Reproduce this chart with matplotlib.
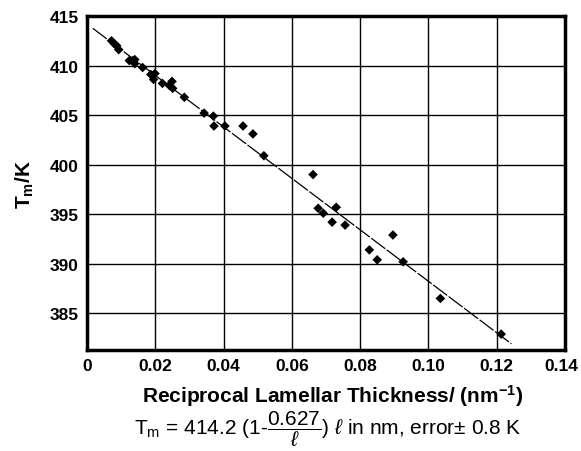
import numpy as np
import matplotlib
matplotlib.use("Agg")
import matplotlib.pyplot as plt
from matplotlib.transforms import ScaledTranslation

plt.rcParams["font.family"] = ["Liberation Sans", "DejaVu Sans"]
plt.rcParams["mathtext.fontset"] = "custom"
plt.rcParams["mathtext.rm"] = "Liberation Sans"
plt.rcParams["mathtext.it"] = "Liberation Sans:italic"
plt.rcParams["mathtext.bf"] = "Liberation Sans:bold"

# ---------------------------------------------------------------- data
recip_thick = [0.0072, 0.0080, 0.0087, 0.0093, 0.0124, 0.0134, 0.0140, 0.0140,
               0.0163, 0.0187, 0.0199, 0.0195, 0.0221, 0.0241, 0.0249, 0.0251,
               0.0285, 0.0343, 0.0370, 0.0372, 0.0404, 0.0457, 0.0486, 0.0518,
               0.0662, 0.0677, 0.0692, 0.0730, 0.0718, 0.0756, 0.0896, 0.0827,
               0.0850, 0.0926, 0.1035, 0.1213]
melt_temp = [412.5, 412.2, 412.0, 411.6, 410.5, 410.5, 410.6, 410.2,
             409.8, 409.1, 409.2, 408.6, 408.2, 408.0, 408.4, 407.7,
             406.8, 405.2, 404.9, 403.9, 403.9, 403.9, 403.1, 400.9,
             399.0, 395.6, 395.1, 395.7, 394.2, 393.9, 392.9, 391.4,
             390.4, 390.2, 386.5, 382.9]
fit_t0 = 414.2
fit_k = 0.627
fit_range = [0.0017, 0.1243]
xticks = [0, 0.02, 0.04, 0.06, 0.08, 0.10, 0.12, 0.14]
xtick_labels = ["0", "0.02", "0.04", "0.06", "0.08", "0.10", "0.12", "0.14"]
yticks = [385, 390, 395, 400, 405, 410, 415]

# ---------------------------------------------------------------- plot
fig = plt.figure(figsize=(5.81, 4.52), dpi=100)
ax = fig.add_axes([0.1497, 0.2235, 0.8228, 0.7389])

xf = np.linspace(fit_range[0], fit_range[1], 50)
ax.plot(xf, fit_t0 * (1 - fit_k * xf), color="black", lw=0.9,
        dashes=(14, 1.5), zorder=3)
ax.scatter(recip_thick, melt_temp, marker="D", s=24, color="black",
           edgecolors="none", zorder=4)

ax.set_xlim(0, 0.14)
ax.set_ylim(381.3, 414.9)
ax.set_xticks(xticks)
ax.set_xticklabels(xtick_labels)
ax.set_yticks(yticks)
ax.grid(True, color="black", lw=1.0)
ax.set_axisbelow(True)
ax.tick_params(length=0, pad=6, labelsize=12.5)
for lab in ax.get_xticklabels() + ax.get_yticklabels():
    lab.set_fontweight("bold")
# keep the last x label inside the canvas
last = ax.get_xticklabels()[-1]
last.set_transform(last.get_transform() + ScaledTranslation(-4 / 100, 0, fig.dpi_scale_trans))
for sp in ax.spines.values():
    sp.set_linewidth(2.5)

ax.set_xlabel(r"Reciprocal Lamellar Thickness/ (nm$^{\mathbf{-1}}$)",
              fontsize=15, fontweight="bold")
ax.xaxis.set_label_coords(0.515, -0.095)
ax.set_ylabel(r"T$_{\mathbf{m}}$/K", fontsize=15, fontweight="bold", labelpad=10)

fig.text(0.565, 0.037,
         r"T$_\mathrm{m}$ = 414.2 (1-$\dfrac{0.627}{\ell}$) $\ell$ in nm, error$\pm$ 0.8 K",
         ha="center", va="baseline", fontsize=15)

fig.savefig("out.png", dpi=100)
